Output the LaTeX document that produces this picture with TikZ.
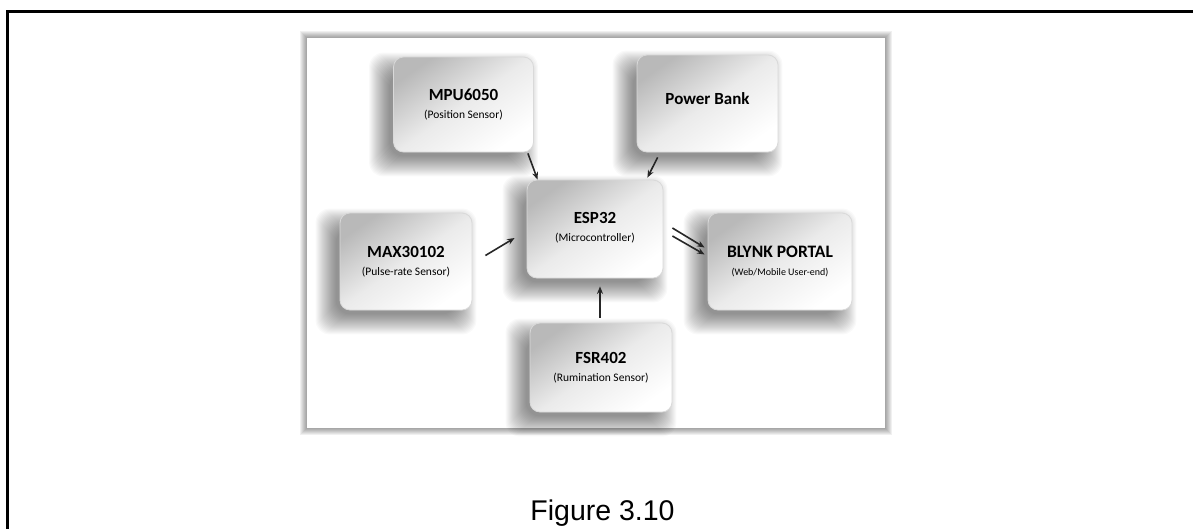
\documentclass[tikz,border=0pt]{standalone}
\usepackage{fontspec}
\setmainfont{Carlito}
\newfontfamily\capfont{Liberation Sans}
\usetikzlibrary{calc,backgrounds,arrows.meta}
\newcommand\boxshadow[1]{%
  \foreach \i in {0,...,20}{%
    \fill[black,opacity=0.022,rounded corners=14pt]
      ($(#1.south west)+(-4-\i,4+\i)$) rectangle ($(#1.north east)+(-16+\i,16-\i)$);}}
\tikzset{
  blk/.style={rounded corners=10pt, draw=gray!30, line width=0.8pt,
    top color=gray!55, bottom color=white, middle color=gray!16, shading angle=35,
    align=center, inner sep=0pt},
  arr/.style={-{Stealth[length=7.5pt,width=6pt]}, line width=1.6pt, black!85},
}
\newcommand\bt[2]{{\bfseries\fontsize{17}{18}\selectfont #1}\\[6pt]{\fontsize{11.5}{13}\selectfont #2}}
\begin{document}
\begin{tikzpicture}[x=1pt,y=-1pt]
\useasboundingbox (0,0) rectangle (1193,528);
% outer page frame
\draw[line width=3pt] (7,532) -- (7,11) -- (1197,11);

% boxes
\node[blk, minimum width=140pt, minimum height=95pt] (mpu) at (463.5,104.5) {\bt{MPU6050}{(Position Sensor)}};
\node[blk, minimum width=141pt, minimum height=97pt] (pb) at (707.5,103.5) {\raisebox{10pt}{\bfseries\fontsize{17}{18}\selectfont Power Bank}};
\node[blk, minimum width=136pt, minimum height=98pt] (esp) at (595,229) {\raisebox{6pt}{\begin{tabular}{@{}c@{}}\bt{ESP32}{(Microcontroller)}\end{tabular}}};
\node[blk, minimum width=132pt, minimum height=97pt] (max) at (406,261.5) {\bt{MAX30102}{(Pulse-rate Sensor)}};
\node[blk, minimum width=142pt, minimum height=89pt] (fsr) at (601,367.5) {\bt{FSR402}{(Rumination Sensor)}};
\node[blk, minimum width=144pt, minimum height=97pt] (bly) at (780,261.5) {{\bfseries\fontsize{17.5}{18}\selectfont BLYNK PORTAL}\\[6pt]{\fontsize{10}{11}\selectfont (Web/Mobile User-end)}};

\begin{scope}[on background layer]
  \foreach \i in {0,...,7}{\fill[black,opacity=0.06] (307-\i,38-\i) rectangle (885+\i,428+\i);}
  \fill[white] (307,38) rectangle (885,428);
  \boxshadow{mpu}\boxshadow{pb}\boxshadow{esp}\boxshadow{max}\boxshadow{fsr}\boxshadow{bly}
\end{scope}

% arrows
\draw[arr] ($(mpu.south east)+(-6,1)$) -- ($(esp.north west)+(11,0)$);
\draw[arr] ($(pb.south west)+(21,5)$) -- ($(esp.north east)+(-16,-2)$);
\draw[arr] ($(max.east)+(13,-6)$) -- ($(esp.west)+(-12,9)$);
\draw[arr] ($(fsr.north)+(-1,-5)$) -- ($(esp.south)+(5,8)$);
\draw[arr] ($(esp.east)+(9,-1)$) -- ($(bly.west)+(-3,-14)$);
\draw[arr] ($(esp.east)+(9,7)$) -- ($(bly.west)+(-3,-7)$);

% caption
\node[font=\capfont\fontsize{28.5}{30}\selectfont, anchor=base] (cap) at (602.5,520) {Figure 3.10};
\end{tikzpicture}
\end{document}
